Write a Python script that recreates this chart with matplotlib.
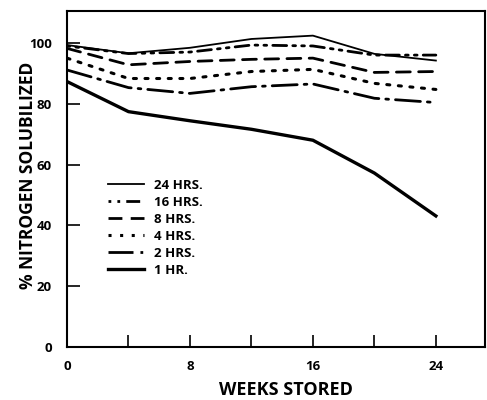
import matplotlib
matplotlib.use("Agg")
import matplotlib.pyplot as plt
from matplotlib.lines import Line2D

weeks = [0, 4, 8, 12, 16, 20, 24]
labels = ["24 HRS.", "16 HRS.", "8 HRS.", "4 HRS.", "2 HRS.", "1 HR."]
hrs24 = [99.3, 96.6, 98.4, 101.3, 102.4, 96.4, 94.2]
hrs16 = [99.0, 96.5, 97.0, 99.3, 99.0, 96.0, 96.0]
hrs8 = [98.2, 92.8, 93.9, 94.6, 95.0, 90.3, 90.6]
hrs4 = [95.0, 88.3, 88.3, 90.6, 91.3, 86.7, 84.7]
hrs2 = [91.1, 85.3, 83.4, 85.6, 86.5, 81.8, 80.4]
hrs1 = [87.3, 77.4, 74.4, 71.6, 68.0, 57.2, 43.1]
series = [hrs24, hrs16, hrs8, hrs4, hrs2, hrs1]

styles = [
    dict(linestyle="-", linewidth=1.3),
    dict(linestyle=(0, (1, 2.2, 1, 2.2, 5, 2.2)), linewidth=2.0),
    dict(linestyle=(0, (5, 3)), linewidth=2.0),
    dict(linestyle=(0, (1, 2.8)), linewidth=2.2),
    dict(linestyle=(0, (9, 2.5, 1, 2.5)), linewidth=2.0),
    dict(linestyle="-", linewidth=2.4),
]

plt.rcParams['font.family'] = ['Open Sans', 'DejaVu Sans']
fig = plt.figure(figsize=(4.87, 4.00), dpi=100)
ax = fig.add_axes([0.1376, 0.1325, 0.8584, 0.84])

for vals, st in zip(series, styles):
    ax.plot(weeks, vals, color="black", dash_capstyle="round", **st)

ax.set_xlim(0, 27.2)
ax.set_ylim(0, 110.5)
ax.set_xticks([0, 8, 16, 24])
ax.set_xticks([4, 12, 20], minor=True)
ax.set_yticks([0, 20, 40, 60, 80, 100])
ax.tick_params(axis="both", which="both", direction="in", length=9, width=1.2,
               labelsize=9.5)
ax.tick_params(axis="y", pad=11)
ax.tick_params(axis="x", pad=9)
for lab in ax.get_xticklabels() + ax.get_yticklabels():
    lab.set_fontweight("bold")
for sp in ax.spines.values():
    sp.set_linewidth(1.5)

ax.set_xlabel("WEEKS STORED", fontsize=13, fontweight="bold")
ax.set_ylabel("% NITROGEN SOLUBILIZED", fontsize=12.5, fontweight="bold")
ax.xaxis.set_label_coords(0.524, -0.10)
ax.yaxis.set_label_coords(-0.072, 0.512)

handles = [Line2D([0], [0], color="black", **st) for st in styles]
leg = ax.legend(handles, labels, loc="upper left", bbox_to_anchor=(0.07, 0.535),
                frameon=False, handlelength=2.7, handletextpad=0.8,
                labelspacing=0.3, prop=dict(size=9.5, weight="bold"))

fig.savefig("out.png", dpi=100)
